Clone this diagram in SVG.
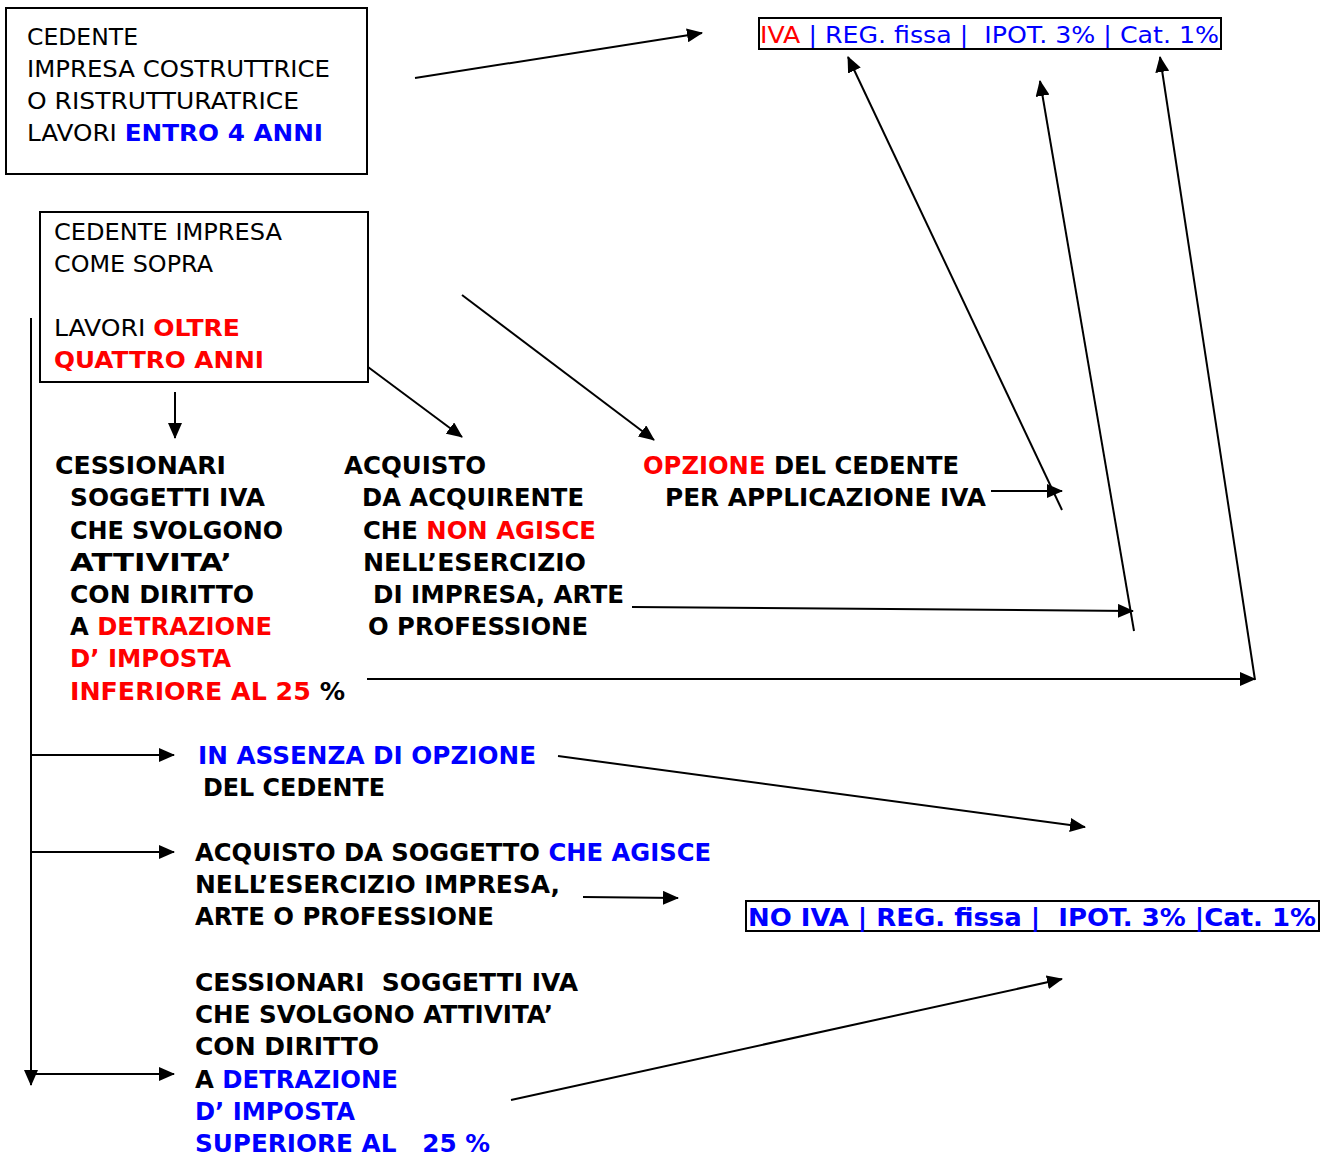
<svg xmlns="http://www.w3.org/2000/svg" width="1326" height="1156" viewBox="0 0 1326 1156">
<defs>
<marker id="ah" markerUnits="userSpaceOnUse" markerWidth="16" markerHeight="14" refX="15" refY="7" orient="auto"><path d="M0,0 L16,7 L0,14 z" fill="#000"/></marker>
</defs>
<style>
.t{font-family:"DejaVu Sans",Tahoma,Verdana,sans-serif;font-size:22.5px;fill:#000}
.b{font-family:"DejaVu Sans",Tahoma,Verdana,sans-serif;font-size:25px;font-weight:bold;fill:#000}
.r{fill:#ff0000}
.u{fill:#0000ff}
.box{fill:none;stroke:#000;stroke-width:2}
.c{stroke:#000;stroke-width:2;fill:none;marker-end:url(#ah)}
</style>
<rect width="1326" height="1156" fill="#fff"/>
<g id="n1">
<rect class="box" x="6" y="8" width="361" height="166"/>
<text class="t" x="27" y="45" textLength="111" lengthAdjust="spacingAndGlyphs">CEDENTE</text>
<text class="t" x="27" y="77" textLength="303" lengthAdjust="spacingAndGlyphs">IMPRESA COSTRUTTRICE</text>
<text class="t" x="27" y="109" textLength="272" lengthAdjust="spacingAndGlyphs">O RISTRUTTURATRICE</text>
<text class="t" x="27" y="141" textLength="296" lengthAdjust="spacingAndGlyphs">LAVORI <tspan class="u" font-weight="bold">ENTRO 4 ANNI</tspan></text>
</g>
<g id="n2">
<rect class="box" x="40" y="212" width="328" height="170"/>
<text class="t" x="54" y="240" textLength="228" lengthAdjust="spacingAndGlyphs">CEDENTE IMPRESA</text>
<text class="t" x="54" y="272" textLength="159" lengthAdjust="spacingAndGlyphs">COME SOPRA</text>
<text class="t" x="54" y="336" textLength="186" lengthAdjust="spacingAndGlyphs">LAVORI <tspan class="r" font-weight="bold">OLTRE</tspan></text>
<text class="t r" x="54" y="368" font-weight="bold" textLength="210" lengthAdjust="spacingAndGlyphs">QUATTRO ANNI</text>
</g>
<g id="n3">
<rect class="box" x="759" y="18" width="462" height="31"/>
<text class="t u" x="760" y="43" font-size="25" textLength="459" lengthAdjust="spacingAndGlyphs" xml:space="preserve"><tspan class="r">IVA</tspan> | REG. fissa |  IPOT. 3% | Cat. 1%</text>
</g>
<g id="n4">
<text class="b" x="55" y="474" textLength="171" lengthAdjust="spacingAndGlyphs">CESSIONARI</text>
<text class="b" x="70" y="506" textLength="195" lengthAdjust="spacingAndGlyphs">SOGGETTI IVA</text>
<text class="b" x="70" y="539" textLength="213" lengthAdjust="spacingAndGlyphs">CHE SVOLGONO</text>
<text class="b" x="70" y="571" textLength="162" lengthAdjust="spacingAndGlyphs">ATTIVITA’</text>
<text class="b" x="70" y="603" textLength="184" lengthAdjust="spacingAndGlyphs">CON DIRITTO</text>
<text class="b" x="70" y="635" textLength="202" lengthAdjust="spacingAndGlyphs">A <tspan class="r">DETRAZIONE</tspan></text>
<text class="b r" x="70" y="667" textLength="161" lengthAdjust="spacingAndGlyphs">D’ IMPOSTA</text>
<text class="b" x="70" y="700" textLength="275" lengthAdjust="spacingAndGlyphs"><tspan class="r">INFERIORE AL 25</tspan> %</text>
</g>
<g id="n5">
<text class="b" x="344" y="474" textLength="142" lengthAdjust="spacingAndGlyphs">ACQUISTO</text>
<text class="b" x="362" y="506" textLength="222" lengthAdjust="spacingAndGlyphs">DA ACQUIRENTE</text>
<text class="b" x="363" y="539" textLength="233" lengthAdjust="spacingAndGlyphs">CHE <tspan class="r">NON AGISCE</tspan></text>
<text class="b" x="363" y="571" textLength="223" lengthAdjust="spacingAndGlyphs">NELL’ESERCIZIO</text>
<text class="b" x="373" y="603" textLength="251" lengthAdjust="spacingAndGlyphs">DI IMPRESA, ARTE</text>
<text class="b" x="368" y="635" textLength="220" lengthAdjust="spacingAndGlyphs">O PROFESSIONE</text>
</g>
<g id="n6">
<text class="b" x="643" y="474" textLength="316" lengthAdjust="spacingAndGlyphs"><tspan class="r">OPZIONE</tspan> DEL CEDENTE</text>
<text class="b" x="665" y="506" textLength="321" lengthAdjust="spacingAndGlyphs">PER APPLICAZIONE IVA</text>
</g>
<g id="n7">
<text class="b u" x="198" y="764" textLength="338" lengthAdjust="spacingAndGlyphs">IN ASSENZA DI OPZIONE</text>
<text class="b" x="203" y="796" textLength="182" lengthAdjust="spacingAndGlyphs">DEL CEDENTE</text>
</g>
<g id="n8">
<text class="b" x="195" y="861" textLength="516" lengthAdjust="spacingAndGlyphs">ACQUISTO DA SOGGETTO <tspan class="u">CHE AGISCE</tspan></text>
<text class="b" x="195" y="893" textLength="365" lengthAdjust="spacingAndGlyphs">NELL’ESERCIZIO IMPRESA,</text>
<text class="b" x="195" y="925" textLength="299" lengthAdjust="spacingAndGlyphs">ARTE O PROFESSIONE</text>
</g>
<g id="n9">
<rect class="box" x="746" y="901" width="573" height="30"/>
<text class="b u" x="748" y="926" textLength="568" lengthAdjust="spacingAndGlyphs" xml:space="preserve">NO IVA | REG. fissa |  IPOT. 3% |Cat. 1%</text>
</g>
<g id="n10">
<text class="b" x="195" y="991" xml:space="preserve" textLength="383" lengthAdjust="spacingAndGlyphs">CESSIONARI  SOGGETTI IVA</text>
<text class="b" x="195" y="1023" textLength="358" lengthAdjust="spacingAndGlyphs">CHE SVOLGONO ATTIVITA’</text>
<text class="b" x="195" y="1055" textLength="184" lengthAdjust="spacingAndGlyphs">CON DIRITTO</text>
<text class="b" x="195" y="1088" textLength="203" lengthAdjust="spacingAndGlyphs">A <tspan class="u">DETRAZIONE</tspan></text>
<text class="b u" x="195" y="1120" textLength="160" lengthAdjust="spacingAndGlyphs">D’ IMPOSTA</text>
<text class="b u" x="195" y="1152" xml:space="preserve" textLength="295" lengthAdjust="spacingAndGlyphs">SUPERIORE AL   25 %</text>
</g>
<g id="connectors">
<line class="c" x1="415" y1="78" x2="702" y2="33"/>
<line class="c" x1="175" y1="392" x2="175" y2="438"/>
<line class="c" x1="368" y1="367" x2="462" y2="437"/>
<line class="c" x1="462" y1="295" x2="654" y2="440"/>
<line class="c" x1="991" y1="491" x2="1062" y2="491"/>
<line class="c" x1="1062" y1="510" x2="848" y2="57"/>
<line class="c" x1="1134" y1="631" x2="1040" y2="81"/>
<line class="c" x1="632" y1="607" x2="1133" y2="611"/>
<line class="c" x1="1255" y1="680" x2="1160" y2="57"/>
<line class="c" x1="367" y1="679" x2="1255" y2="679"/>
<line class="c" x1="31" y1="318" x2="31" y2="1085"/>
<line class="c" x1="31" y1="755" x2="174" y2="755"/>
<line class="c" x1="31" y1="852" x2="174" y2="852"/>
<line class="c" x1="31" y1="1074" x2="174" y2="1074"/>
<line class="c" x1="558" y1="756" x2="1085" y2="827"/>
<line class="c" x1="583" y1="897" x2="678" y2="898"/>
<line class="c" x1="511" y1="1100" x2="1062" y2="979"/>
</g>
</svg>
